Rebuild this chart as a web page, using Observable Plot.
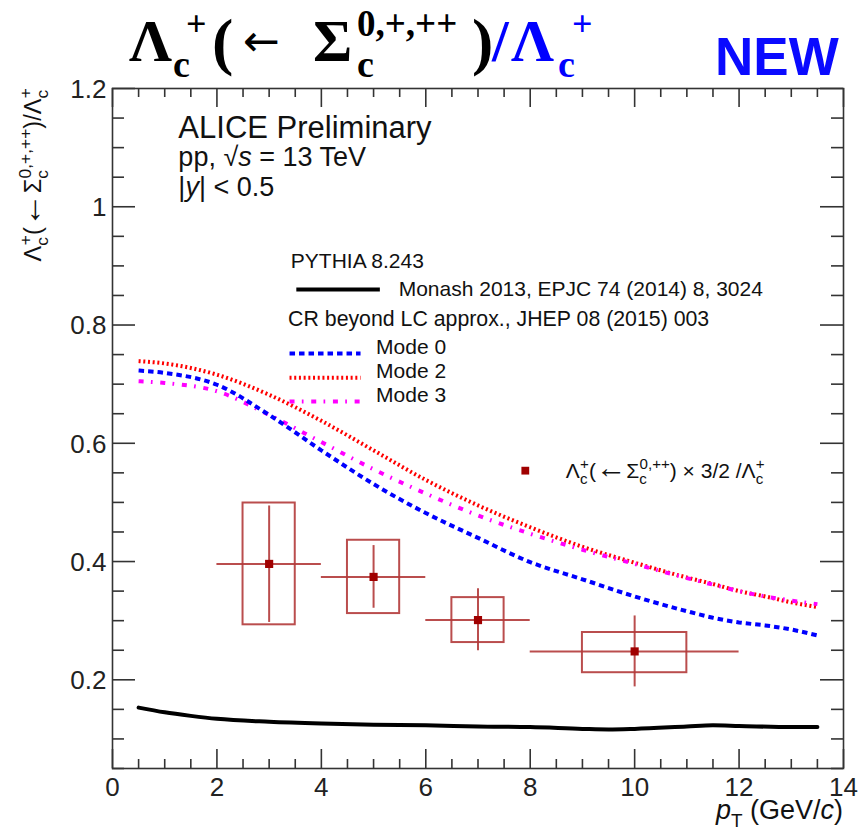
<!DOCTYPE html>
<html><head><meta charset="utf-8">
<script src="https://cdn.jsdelivr.net/npm/d3@7"></script>
<script src="https://cdn.jsdelivr.net/npm/@observablehq/plot@0.6"></script>
<style>
body{margin:0;background:#fff;}
#wrap{width:859px;height:831px;position:relative;overflow:hidden;background:#fff;}
#wrap svg{display:block;}
</style></head><body><div id="wrap"></div>
<script>
// ---------------- data ----------------
const xMajorTicks = [0, 2, 4, 6, 8, 10, 12, 14];
const xTickLabels = ["0", "2", "4", "6", "8", "10", "12", "14"];
const yMajorTicks = [0.2, 0.4, 0.6, 0.8, 1.0, 1.2];
const yTickLabels = ["0.2", "0.4", "0.6", "0.8", "1", "1.2"];
const xMinorTicks = d3.range(0.5, 14, 0.5).filter(v => v % 2 !== 0);
const yMinorTicks = d3.range(0.05, 1.2, 0.05).map(v => +v.toFixed(2)).filter(v => Math.abs(v * 5 - Math.round(v * 5)) > 1e-6);

// PYTHIA 8.243 Monash 2013
const monashX = [0.5, 1, 1.5, 2, 3, 4, 5, 6, 7, 8, 9, 9.5, 10, 11, 11.5, 12, 13, 13.5];
const monashY = [0.153, 0.145, 0.139, 0.134, 0.129, 0.126, 0.124, 0.123, 0.121, 0.120, 0.117, 0.116, 0.117, 0.121, 0.123, 0.122, 0.120, 0.120];

// CR beyond LC modes
const modeX = [0.5, 1, 2, 3, 4, 5, 6, 7, 8, 9, 10, 11, 11.5, 12, 12.5, 13, 13.5];
const mode0Y = [0.723, 0.719, 0.699, 0.648, 0.588, 0.531, 0.482, 0.440, 0.399, 0.370, 0.341, 0.316, 0.305, 0.297, 0.292, 0.285, 0.275];
const mode2Y = [0.739, 0.735, 0.716, 0.682, 0.638, 0.588, 0.538, 0.495, 0.458, 0.425, 0.398, 0.373, 0.362, 0.350, 0.341, 0.331, 0.323];
const mode3Y = [0.705, 0.702, 0.688, 0.648, 0.602, 0.556, 0.515, 0.478, 0.447, 0.420, 0.396, 0.372, 0.361, 0.350, 0.341, 0.334, 0.328];

// ALICE data: Λc+(←Σc0,++) × 3/2 / Λc+
const dataX     = [3, 5, 7, 10];
const dataY     = [0.396, 0.374, 0.301, 0.248];
const dataXLow  = [2, 4, 6, 8];
const dataXHigh = [4, 6, 8, 12];
const statLow   = [0.297, 0.321, 0.249, 0.188];
const statHigh  = [0.494, 0.427, 0.354, 0.308];
const sysXLow   = [2.5, 4.5, 6.5, 9];
const sysXHigh  = [3.5, 5.5, 7.5, 11];
const sysLow    = [0.293, 0.312, 0.263, 0.212];
const sysHigh   = [0.499, 0.436, 0.339, 0.280];

// ---------------- build tables ----------------
const monash = monashX.map((x, i) => ({x, y: monashY[i]}));
const mode0 = modeX.map((x, i) => ({x, y: mode0Y[i]}));
const mode2 = modeX.map((x, i) => ({x, y: mode2Y[i]}));
const mode3 = modeX.map((x, i) => ({x, y: mode3Y[i]}));
const pts = dataX.map((x, i) => ({
  x, y: dataY[i], xl: dataXLow[i], xh: dataXHigh[i],
  sl: statLow[i], sh: statHigh[i], bxl: sysXLow[i], bxh: sysXHigh[i], byl: sysLow[i], byh: sysHigh[i]
}));

// legend anchors (data units)
const legMonash = [{x1: 3.53, x2: 5.13, y: 0.860}];
const legMode0 = [{x1: 3.40, x2: 4.76, y: 0.752}];
const legMode2 = [{x1: 3.40, x2: 4.76, y: 0.711}];
const legMode3 = [{x1: 3.40, x2: 4.76, y: 0.6705}];
const legendSquare = [{x: 7.906, y: 0.5537}];

const W = 859, H = 751, mT = 8, mB = 63, mL = 112, mR = 16;
const innerW = W - mL - mR, innerH = H - mT - mB;
const axisColor = "#333";
const errColor = "#b23a3a";
const font = "'Liberation Sans', Arial, Helvetica, sans-serif";

const dash0 = "5.5,4", dash2 = "2,2.7", dash3 = "5,7.3,1.7,7.7";
const lineOpts = {strokeWidth: 4, strokeLinecap: "butt", strokeLinejoin: "miter"};

const plot = Plot.plot({
  width: W, height: H,
  marginTop: mT, marginBottom: mB, marginLeft: mL, marginRight: mR,
  x: {domain: [0, 14]},
  y: {domain: [0.05, 1.2]},
  style: {fontFamily: font, color: "#222", background: "#fff", overflow: "visible"},
  marks: [
    // error boxes and bars
    Plot.rect(pts, {x1: "bxl", x2: "bxh", y1: "byl", y2: "byh", fill: "none", stroke: errColor, strokeWidth: 2, strokeOpacity: 0.9}),
    Plot.ruleY(pts, {y: "y", x1: "xl", x2: "xh", stroke: errColor, strokeWidth: 2, strokeOpacity: 0.9}),
    Plot.ruleX(pts, {x: "x", y1: "sl", y2: "sh", stroke: errColor, strokeWidth: 2, strokeOpacity: 0.9}),
    // model curves
    Plot.line(monash, {x: "x", y: "y", stroke: "#000", strokeWidth: 4, curve: "monotone-x"}),
    Plot.line(mode2, {x: "x", y: "y", stroke: "#ff0000", strokeDasharray: dash2, curve: "monotone-x", ...lineOpts}),
    Plot.line(mode3, {x: "x", y: "y", stroke: "#ff00ff", strokeDasharray: dash3, curve: "monotone-x", ...lineOpts}),
    Plot.line(mode0, {x: "x", y: "y", stroke: "#0000ff", strokeDasharray: dash0, curve: "monotone-x", ...lineOpts}),
    // data markers
    Plot.dot(pts, {x: "x", y: "y", symbol: "square", r: 4.6, fill: "#a00000", stroke: "none"}),
    // legend samples
    Plot.ruleY(legMonash, {y: "y", x1: "x1", x2: "x2", stroke: "#000", strokeWidth: 4, strokeLinecap: "butt"}),
    Plot.ruleY(legMode0, {y: "y", x1: "x1", x2: "x2", stroke: "#0000ff", strokeDasharray: dash0, ...lineOpts}),
    Plot.ruleY(legMode2, {y: "y", x1: "x1", x2: "x2", stroke: "#ff0000", strokeDasharray: dash2, ...lineOpts}),
    Plot.ruleY(legMode3, {y: "y", x1: "x1", x2: "x2", stroke: "#ff00ff", strokeDasharray: dash3, ...lineOpts}),
    Plot.dot(legendSquare, {x: "x", y: "y", symbol: "square", r: 4.4, fill: "#a00000"}),
    // frame + ticks
    Plot.frame({stroke: axisColor, strokeWidth: 1.6}),
    Plot.tickX(xMajorTicks, {x: d => d, insetTop: innerH - 19, stroke: axisColor, strokeWidth: 1.6}),
    Plot.tickX(xMajorTicks, {x: d => d, insetBottom: innerH - 19, stroke: axisColor, strokeWidth: 1.6}),
    Plot.tickX(xMinorTicks, {x: d => d, insetTop: innerH - 9, stroke: axisColor, strokeWidth: 1.6}),
    Plot.tickX(xMinorTicks, {x: d => d, insetBottom: innerH - 9, stroke: axisColor, strokeWidth: 1.6}),
    Plot.tickY(yMajorTicks, {y: d => d, insetRight: innerW - 23, stroke: axisColor, strokeWidth: 1.6}),
    Plot.tickY(yMajorTicks, {y: d => d, insetLeft: innerW - 23, stroke: axisColor, strokeWidth: 1.6}),
    Plot.tickY(yMinorTicks, {y: d => d, insetRight: innerW - 12, stroke: axisColor, strokeWidth: 1.6}),
    Plot.tickY(yMinorTicks, {y: d => d, insetLeft: innerW - 12, stroke: axisColor, strokeWidth: 1.6}),
    Plot.axisX({ticks: xMajorTicks, tickSize: 0, tickPadding: 9, fontSize: 26, label: null,
      tickFormat: d => xTickLabels[xMajorTicks.indexOf(d)]}),
    Plot.axisY({ticks: yMajorTicks, tickSize: 0, tickPadding: 6, fontSize: 26, label: null, dy: 1,
      tickFormat: d => yTickLabels[yMajorTicks.findIndex(v => Math.abs(v - d) < 1e-9)]})
  ]
});

const wrap = document.getElementById("wrap");

// ---------------- header (title) ----------------
const header = d3.create("svg").attr("width", W).attr("height", 80).style("overflow", "visible");
const serif = "'Liberation Serif', 'Times New Roman', serif";
const titleParts = [
  {t: "Λ", x: 129, y: 61, s: 60, c: "#000"},
  {t: "c", x: 173, y: 77, s: 38, c: "#000"},
  {t: "+", x: 186, y: 36, s: 36, c: "#000"},
  {t: "(", x: 212, y: 63, s: 64, c: "#000"},
  {t: "←", x: 243, y: 56, s: 44, c: "#000", f: "'DejaVu Sans', sans-serif", w: "normal"},
  {t: "Σ", x: 313, y: 61, s: 60, c: "#000"},
  {t: "c", x: 357, y: 77, s: 38, c: "#000"},
  {t: "0,+,++", x: 357, y: 36, s: 37, c: "#000"},
  {t: ")", x: 472, y: 63, s: 64, c: "#000"},
  {t: "/", x: 492, y: 61, s: 60, c: "#0000ff"},
  {t: "Λ", x: 511, y: 61, s: 60, c: "#0000ff"},
  {t: "c", x: 558, y: 77, s: 38, c: "#0000ff"},
  {t: "+", x: 572, y: 36, s: 36, c: "#0000ff"}
];
for (const p of titleParts) {
  header.append("text").attr("x", p.x).attr("y", p.y).attr("font-size", p.s)
    .attr("font-family", p.f || serif).attr("font-weight", p.w || "bold").attr("fill", p.c).text(p.t);
}
header.append("text").attr("x", 715).attr("y", 75).attr("font-size", 53)
  .attr("font-family", font).attr("font-weight", "bold").attr("fill", "#0a0aff").text("NEW");

wrap.append(header.node());
wrap.append(plot);

// ---------------- rich text annotations ----------------
const svg = d3.select(plot);
const sx = plot.scale("x"), sy = plot.scale("y");
const ann = svg.append("g").attr("font-family", font).attr("fill", "#111").attr("text-anchor", "start");

function rich(parent, x, y, parts, size, opts = {}) {
  const t = parent.append("text").attr("font-size", size).attr("text-anchor", opts.anchor || "start");
  if (opts.rotate) t.attr("transform", `translate(${x},${y}) rotate(${opts.rotate})`);
  else t.attr("x", x).attr("y", y);
  const scr = opts.scr || 0.7;
  let cur = 0;
  for (const p of parts) {
    const sc = (p.sub || p.sup) ? scr : (p.big || 1);
    const off = p.sub ? -0.3 : p.sup ? 0.42 : 0;
    const target = -off * size;
    const ts = t.append("tspan").attr("font-size", size * sc).text(p.t);
    if (target - cur !== 0) ts.attr("dy", target - cur);
    cur = target;
    if (p.back) ts.attr("dx", -p.back * size);
    if (p.i) ts.attr("font-style", "italic");
  }
  return t;
}

const lamC = (sup) => [{t: "Λ"}, {t: "c", sub: true}, {t: sup, sup: true, back: 0.35}];
const arrowPart = [{t: "("}, {t: "←", big: 1.45}, {t: "Σ"}];

// Header text block
rich(ann, sx.apply(1.271), sy.apply(1.1147), [{t: "ALICE Preliminary"}], 31);
rich(ann, sx.apply(1.271), sy.apply(1.0681), [{t: "pp, √"}, {t: "s", i: true}, {t: " = 13 TeV"}], 27);
rich(ann, sx.apply(1.271), sy.apply(1.0173), [{t: "|"}, {t: "y", i: true}, {t: "| < 0.5"}], 27);

// Model legend
rich(ann, sx.apply(3.425), sy.apply(0.895), [{t: "PYTHIA 8.243"}], 21);
rich(ann, sx.apply(5.49), sy.apply(0.848), [{t: "Monash 2013, EPJC 74 (2014) 8, 3024"}], 21);
rich(ann, sx.apply(3.373), sy.apply(0.797), [{t: "CR beyond LC approx., JHEP 08 (2015) 003"}], 21.3);
rich(ann, sx.apply(5.058), sy.apply(0.750), [{t: "Mode 0"}], 21);
rich(ann, sx.apply(5.058), sy.apply(0.709), [{t: "Mode 2"}], 21);
rich(ann, sx.apply(5.058), sy.apply(0.6688), [{t: "Mode 3"}], 21);

// Data legend
rich(ann, sx.apply(8.692), sy.apply(0.5407),
  [...lamC("+"), ...arrowPart, {t: "c", sub: true}, {t: "0,++", sup: true, back: 0.35}, {t: ") × 3/2 /"}, ...lamC("+")], 21,
  {scr: 0.72});

// y-axis title
rich(ann, 41, mT, [...lamC("+"), ...arrowPart, {t: "c", sub: true}, {t: "0,+,++", sup: true, back: 0.36}, {t: ")/"}, ...lamC("+")], 23.5,
  {rotate: -90, anchor: "end", scr: 0.74});

// x-axis title
rich(ann, W - mR, H - 12, [{t: "p", i: true}, {t: "T", sub: true}, {t: " (GeV/"}, {t: "c", i: true}, {t: ")"}], 27, {anchor: "end"});
</script>
</body></html>
